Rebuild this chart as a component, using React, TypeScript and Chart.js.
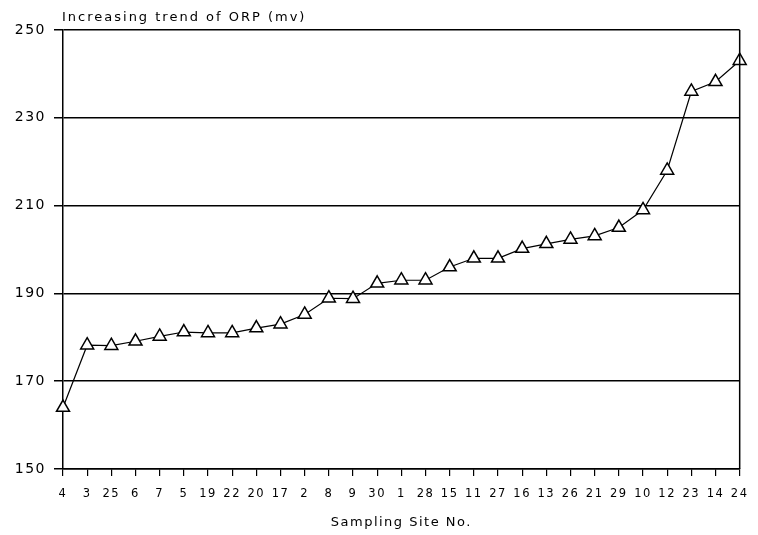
import React, { useEffect, useRef } from 'react';
import { Chart, registerables } from 'chart.js';

Chart.register(...registerables);

const sites: string[] = ['4', '3', '25', '6', '7', '5', '19', '22', '20', '17', '2', '8', '9', '30', '1', '28', '15', '11', '27', '16', '13', '26', '21', '29', '10', '12', '23', '14', '24'];
const orp: number[] = [164, 178.2, 178.1, 179.1, 180.2, 181.2, 181, 181, 182.1, 183, 185.2, 188.9, 188.8, 192.3, 193, 193, 196, 198, 198, 200.2, 201.3, 202.3, 203.1, 205, 209, 218, 236, 238.2, 243];
const yTicks: number[] = [150, 170, 190, 210, 230, 250];
const chartTitle = 'Increasing trend of ORP (mv)';
const xTitle = 'Sampling Site No.';

const FONT = '"DejaVu Sans", "Liberation Sans", sans-serif';

const framePlugin = {
  id: 'frame',
  beforeDraw(chart: any) {
    const ctx = chart.ctx;
    try { ctx.letterSpacing = '1.5px'; } catch (e) { /* ignore */ }
  },
  afterDraw(chart: any) {
    const { ctx, chartArea } = chart;
    ctx.save();
    ctx.strokeStyle = '#000';
    ctx.lineWidth = 1.5;
    ctx.beginPath();
    ctx.moveTo(chartArea.right, chartArea.top);
    ctx.lineTo(chartArea.right, chartArea.bottom);
    ctx.stroke();
    try { ctx.letterSpacing = '2px'; } catch (e) { /* ignore */ }
    ctx.fillStyle = '#000';
    ctx.font = `13px ${FONT}`;
    ctx.textAlign = 'left';
    ctx.textBaseline = 'middle';
    ctx.fillText(chartTitle, chartArea.left - 1, 18);
    ctx.restore();
  },
};

export default function App() {
  const ref = useRef<HTMLCanvasElement | null>(null);

  useEffect(() => {
    if (!ref.current) return;
    const chart = new Chart(ref.current, {
      type: 'line',
      data: {
        labels: sites,
        datasets: [
          {
            data: orp,
            borderColor: '#000',
            borderWidth: 1.2,
            pointStyle: 'triangle',
            pointRadius: 7.5,
            pointBorderWidth: 1.5,
            pointBackgroundColor: '#fff',
            pointBorderColor: '#000',
            tension: 0,
            fill: false,
            clip: false as any,
          },
        ],
      },
      options: {
        animation: false,
        responsive: false,
        layout: { padding: { top: 30, right: 18, bottom: 0, left: 0 } },
        plugins: {
          legend: { display: false },
          tooltip: { enabled: false },
          title: { display: false },
        },
        scales: {
          x: {
            type: 'category',
            offset: false,
            grid: {
              display: true,
              drawOnChartArea: false,
              drawTicks: true,
              tickLength: 7,
              color: '#000',
              lineWidth: 1.2,
            },
            border: { display: true, color: '#000', width: 1.5 },
            ticks: {
              autoSkip: false,
              maxRotation: 0,
              minRotation: 0,
              padding: 11,
              color: '#000',
              font: { family: FONT, size: 11.5 },
            },
            title: {
              display: true,
              text: xTitle,
              color: '#000',
              font: { family: FONT, size: 13 },
              padding: { top: 0, bottom: 5 },
            },
            afterFit: (scale: any) => {
              scale.height = 66;
            },
          },
          y: {
            min: 150,
            max: 250,
            grid: {
              display: true,
              drawOnChartArea: true,
              drawTicks: true,
              tickLength: 9,
              color: '#000',
              lineWidth: 1.5,
            },
            border: { display: true, color: '#000', width: 1.5 },
            ticks: {
              stepSize: 20,
              padding: 8,
              color: '#000',
              font: { family: FONT, size: 14 },
            },
            afterBuildTicks: (scale: any) => {
              scale.ticks = yTicks.map((v) => ({ value: v }));
            },
            afterFit: (scale: any) => {
              scale.width = 63;
            },
          },
        },
      },
      plugins: [framePlugin],
    });
    return () => chart.destroy();
  }, []);

  return (
    <canvas
      ref={ref}
      width={758}
      height={535}
      style={{ position: 'fixed', left: 0, top: 0, width: 758, height: 535, display: 'block', background: '#fff' }}
    />
  );
}
